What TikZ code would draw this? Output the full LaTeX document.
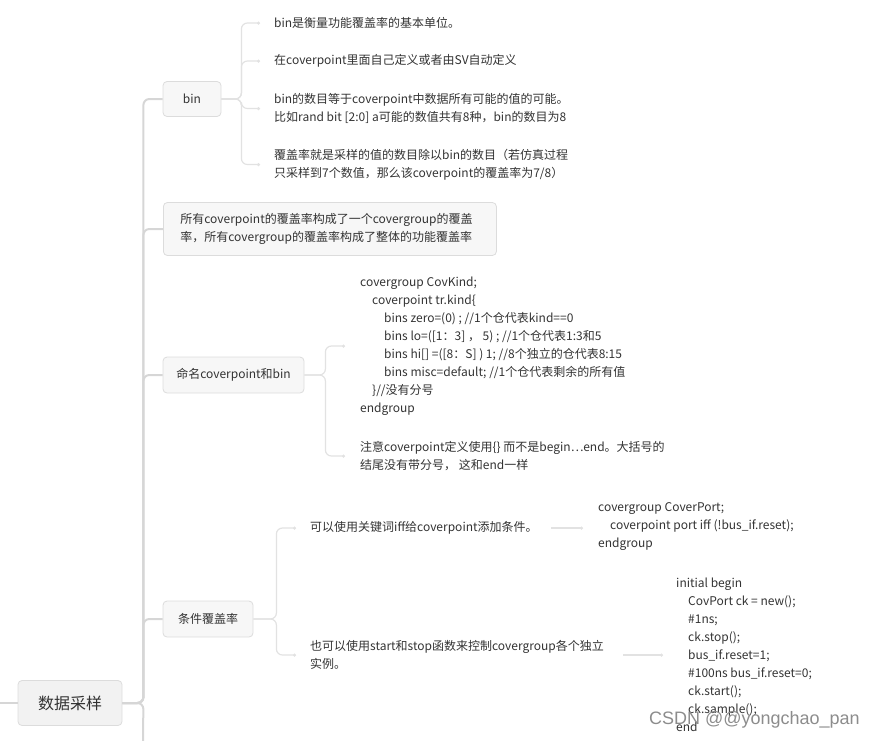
\documentclass[tikz,border=0pt]{standalone}
\usepackage{fontspec}
\setmainfont{Noto Sans CJK SC}
\newfontfamily\markfont{Liberation Sans}
\usetikzlibrary{positioning, arrows.meta, calc}

\definecolor{txtgray}{HTML}{333333}
\definecolor{boxfill}{HTML}{F7F7F7}
\definecolor{rootfill}{HTML}{F2F2F2}
\definecolor{boxline}{HTML}{DCDCDC}
\definecolor{linegray}{HTML}{E2E2E2}
\definecolor{trunkgray}{HTML}{D6D6D6}

\newcommand{\codeind}{\hspace*{12pt}}

\begin{document}
\begin{tikzpicture}[x=1pt, y=-1pt,
        topicbox/.style={
            draw=boxline, fill=boxfill, rounded corners=4pt, line width=0.8pt,
            minimum height=36pt, inner xsep=12pt,
            text=txtgray, font=\fontsize{12}{18}\selectfont
        },
        leaf/.style={
            anchor=west, inner sep=0pt, align=left,
            text=txtgray, font=\fontsize{12}{18}\selectfont
        },
        trunk/.style={draw=trunkgray, line width=2pt, rounded corners=6pt},
        branch/.style={draw=linegray, line width=1.5pt, rounded corners=6pt},
        twig/.style={draw=linegray, line width=1.2pt, rounded corners=6pt, -{Circle[length=3pt]}}
    ]
        \useasboundingbox (0,0) rectangle (873,740);

        % main topic and its children
        \node[topicbox, fill=rootfill, minimum width=104pt, minimum height=45pt,
              font=\fontsize{16}{20}\selectfont] (root) at (70,703) {数据采样};
        \coordinate (rootin) at (0,703);
        \coordinate (more) at (143,742);

        \node[topicbox, minimum width=58pt, minimum height=35pt] (bin) at (192,99) {bin};
        \node[topicbox, anchor=west, minimum height=53pt, inner xsep=17pt, align=left,
              text width=299pt] (note) at (163,229) {
            所有coverpoint的覆盖率构成了一个covergroup的覆盖\\
            率，所有covergroup的覆盖率构成了整体的功能覆盖率
        };
        \node[topicbox, minimum width=141pt] (naming) at (233.5,375) {命名coverpoint和bin};
        \node[topicbox, minimum width=90pt] (cond) at (208,619) {条件覆盖率};

        \draw[trunk] (rootin) -- (root.west);
        \draw[trunk] (root.east) -- ++(21,0) |- (bin.west);
        \draw[trunk] (root.east) -- ++(21,0) |- (note.west);
        \draw[trunk] (root.east) -- ++(21,0) |- (naming.west);
        \draw[trunk] (root.east) -- ++(21,0) |- (cond.west);
        \draw[trunk] (root.east) -- ++(21,0) -- (more);

        % bin
        \node[leaf] (b1) at (274,23) {bin是衡量功能覆盖率的基本单位。};
        \node[leaf] (b2) at (274,61) {在coverpoint里面自己定义或者由SV自动定义};
        \node[leaf] (b3) at (274,108.5) {
            bin的数目等于coverpoint中数据所有可能的值的可能。\\
            比如rand bit [2:0] a可能的数值共有8种，bin的数目为8
        };
        \node[leaf] (b4) at (274,164.5) {
            覆盖率就是采样的值的数目除以bin的数目（若仿真过程\\
            只采样到7个数值，那么该coverpoint的覆盖率为7/8）
        };
        \foreach \leafname in {b1, b2, b3, b4}
            \draw[twig] (bin.east) -- ++(20,0) |- ([xshift=-14pt]\leafname.west);

        % naming
        \node[leaf] (nc1) at (360,346) {
            covergroup CovKind;\\
            \codeind coverpoint tr.kind\{\\
            \codeind\codeind bins zero=(0) ; //1个仓代表kind==0\\
            \codeind\codeind bins lo=([1：3] ，  5) ; //1个仓代表1:3和5\\
            \codeind\codeind bins hi[] =([8：S] )  1; //8个独立的仓代表8:15\\
            \codeind\codeind bins misc=default; //1个仓代表剩余的所有值\\
            \codeind \}//没有分号\\
            endgroup
        };
        \node[leaf] (nc2) at (360,456) {
            注意coverpoint定义使用\{\} 而不是begin…end。大括号的\\
            结尾没有带分号， 这和end一样
        };
        \foreach \leafname in {nc1, nc2}
            \draw[twig] (naming.east) -- ++(21,0) |- ([xshift=-15pt]\leafname.west);

        % conditions
        \node[leaf] (c1) at (310,528) {可以使用关键词iff给coverpoint添加条件。};
        \node[leaf] (c2) at (310,655) {
            也可以使用start和stop函数来控制covergroup各个独立\\
            实例。
        };
        \foreach \leafname in {c1, c2}
            \draw[twig] (cond.east) -- ++(23,0) |- ([xshift=-14pt]\leafname.west);

        \node[leaf] (cc1) at (598,527) {
            covergroup CoverPort;\\
            \codeind coverpoint port iff (!bus\_if.reset);\\
            endgroup
        };
        \node[leaf] (cc2) at (676,655) {
            initial begin\\
            \codeind CovPort ck = new();\\
            \codeind \#1ns;\\
            \codeind ck.stop();\\
            \codeind bus\_if.reset=1;\\
            \codeind \#100ns bus\_if.reset=0;\\
            \codeind ck.start();\\
            \codeind ck.sample();\\
            end
        };
        \draw[twig] ([xshift=13pt]c1.east) -- ([xshift=-15pt]cc1.west |- c1.east);
        \draw[twig] (623,655) -- ([xshift=-13pt]cc2.west);

        \node[anchor=east, inner sep=0pt, text=black!45, font=\markfont\fontsize{18}{20}\selectfont]
            (mark) at (860,720) {CSDN @@yongchao\_pan};
    \end{tikzpicture}
\end{document}
